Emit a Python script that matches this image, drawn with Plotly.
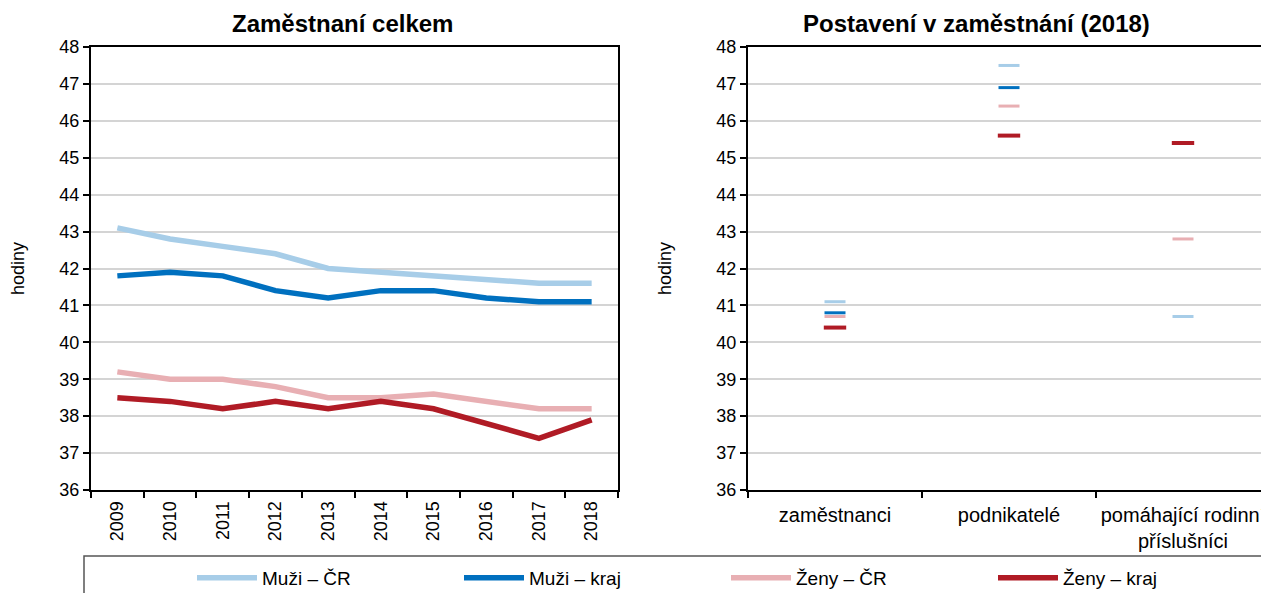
import plotly.graph_objects as go

W, H = 1261, 593

years = ["2009", "2010", "2011", "2012", "2013", "2014", "2015", "2016", "2017", "2018"]
muzi_cr = [43.1, 42.8, 42.6, 42.4, 42.0, 41.9, 41.8, 41.7, 41.6, 41.6]
muzi_kraj = [41.8, 41.9, 41.8, 41.4, 41.2, 41.4, 41.4, 41.2, 41.1, 41.1]
zeny_cr = [39.2, 39.0, 39.0, 38.8, 38.5, 38.5, 38.6, 38.4, 38.2, 38.2]
zeny_kraj = [38.5, 38.4, 38.2, 38.4, 38.2, 38.4, 38.2, 37.8, 37.4, 37.9]

status = ["zaměstnanci", "podnikatelé", "pomáhající rodinní<br>příslušníci"]
st_muzi_cr = [41.1, 47.5, 40.7]
st_muzi_kraj = [40.8, 46.9, None]
st_zeny_cr = [40.7, 46.4, 42.8]
st_zeny_kraj = [40.4, 45.6, 45.4]

names = ["Muži – ČR", "Muži – kraj", "Ženy – ČR", "Ženy – kraj"]
colors = ["#a7cde8", "#0070bf", "#e8afb3", "#b01b25"]
left_series = [muzi_cr, muzi_kraj, zeny_cr, zeny_kraj]
right_series = [st_muzi_cr, st_muzi_kraj, st_zeny_cr, st_zeny_kraj]

FONT = "Liberation Sans, Arial, sans-serif"

fig = go.Figure()
for n, c, ys in zip(names, colors, left_series):
    fig.add_trace(go.Scatter(x=years, y=ys, name=n, mode="lines",
                             line=dict(color=c, width=5.5), legendgroup=n,
                             xaxis="x", yaxis="y"))
for i, (n, c, ys) in enumerate(zip(names, colors, right_series)):
    fig.add_trace(go.Scatter(x=status, y=ys, name=n, mode="markers",
                             marker=dict(symbol="line-ew", size=15 if i < 3 else 16,
                                         line=dict(color=c, width=3 if i < 3 else 4)),
                             legendgroup=n, showlegend=False,
                             xaxis="x2", yaxis="y2"))

def px(x):
    return x / W

def py(y):
    return 1 - y / H

def ax_common(size):
    return dict(showline=True, linecolor="black", linewidth=2, ticks="outside",
                tickcolor="black", ticklen=6, tickwidth=1.5,
                tickfont=dict(size=size, color="black", family=FONT))

r0 = 748
step = 174
r_end = -0.5 + (W - r0) / step

fig.update_layout(
    width=W, height=H,
    margin=dict(l=0, r=0, t=0, b=0, autoexpand=False),
    paper_bgcolor="white", plot_bgcolor="white",
    font=dict(family=FONT, size=18, color="black"),
    xaxis=dict(domain=[px(91), px(618)], type="category", tickson="boundaries",
               tickangle=-90, mirror=True, showgrid=False, range=[-0.5, 9.5],
               ticklabelstandoff=2, **ax_common(18)),
    yaxis=dict(domain=[py(490), py(47)], range=[36, 48], dtick=1, mirror=True,
               showgrid=True, gridcolor="#d4d4d4", gridwidth=1.5,
               title=dict(text="hodiny", font=dict(size=18), standoff=30),
               anchor="x", **ax_common(18)),
    xaxis2=dict(domain=[px(r0), 1.0], type="category", tickson="boundaries",
                range=[-0.5, r_end], showgrid=False, anchor="y2", mirror=True,
                ticklabelstandoff=6, **ax_common(20)),
    yaxis2=dict(domain=[py(490), py(47)], range=[36, 48], dtick=1,
                showgrid=True, gridcolor="#d4d4d4", gridwidth=1.5,
                title=dict(text="hodiny", font=dict(size=18), standoff=40),
                anchor="x2", **ax_common(18)),
    showlegend=True,
    legend=dict(orientation="h", x=px(192), xanchor="left", y=py(578), yanchor="middle",
                entrywidth=192, entrywidthmode="pixels", itemwidth=60,
                font=dict(size=19, family=FONT), bgcolor="rgba(0,0,0,0)",
                tracegroupgap=0),
    annotations=[
        dict(text="<b>Zaměstnaní celkem</b>", x=px(343), y=py(24), xref="paper", yref="paper",
             showarrow=False, font=dict(size=24, family=FONT), xanchor="center", yanchor="middle"),
        dict(text="<b>Postavení v zaměstnání (2018)</b>", x=px(976), y=py(24), xref="paper",
             yref="paper", showarrow=False, font=dict(size=24, family=FONT),
             xanchor="center", yanchor="middle"),
    ],
    shapes=[
        dict(type="rect", xref="paper", yref="paper", x0=px(84), x1=px(1300),
             y0=py(556), y1=py(640), line=dict(color="#555555", width=1.5),
             fillcolor="rgba(0,0,0,0)"),
    ],
)

fig.write_html("out.html", config={"displayModeBar": False},
               post_script="document.body.style.margin='0px';")
